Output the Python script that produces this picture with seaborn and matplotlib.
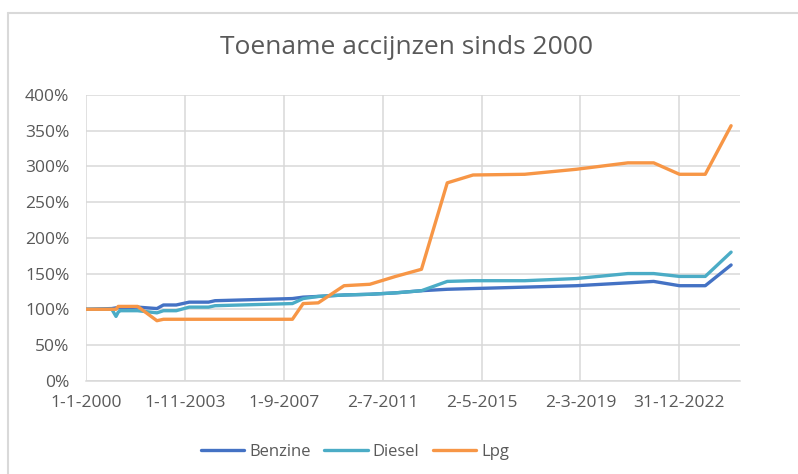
import datetime as dt
import pandas as pd
import matplotlib
matplotlib.use("Agg")
import matplotlib.pyplot as plt
import matplotlib.dates as mdates
from matplotlib.ticker import FuncFormatter, MultipleLocator
import seaborn as sns

# peildata en index (2000 = 100%)
datums = [
    "2000-01-01", "2001-01-01", "2001-03-01", "2001-04-01", "2001-05-01",
    "2002-01-01", "2002-10-01", "2003-01-01", "2003-07-01", "2004-01-01",
    "2004-10-01", "2005-01-01", "2006-01-01", "2007-01-01", "2008-01-01",
    "2008-06-01", "2009-01-01", "2010-01-01", "2011-01-01", "2012-01-01",
    "2013-01-01", "2014-01-01", "2015-01-01", "2017-01-01", "2019-01-01",
    "2021-01-01", "2022-01-01", "2023-01-01", "2024-01-01", "2025-01-01",
]
benzine = [100, 101, 102, 102, 102, 103, 101, 106, 106, 110,
           110, 112, 113, 114, 115, 117, 118, 120, 121, 123,
           126, 128, 129, 131, 133, 137, 139, 133, 133, 162]
diesel = [100, 100, 90, 96, 98, 98, 95, 98, 98, 103,
          103, 105, 106, 107, 108, 115, 118, 120, 121, 123,
          126, 139, 140, 140, 143, 150, 150, 146, 146, 180]
lpg = [100, 100, 100, 104, 104, 104, 84, 86, 86, 86,
       86, 86, 86, 86, 86, 108, 109, 133, 135, 146,
       156, 277, 288, 289, 296, 305, 305, 289, 289, 357]

reeksen = {"Benzine": benzine, "Diesel": diesel, "Lpg": lpg}
kleuren = {"Benzine": "#4472C4", "Diesel": "#4BACC6", "Lpg": "#F79646"}

frames = []
for naam, waarden in reeksen.items():
    frames.append(pd.DataFrame({"datum": pd.to_datetime(datums),
                                "index": [v / 100 for v in waarden],
                                "brandstof": naam}))
df = pd.concat(frames, ignore_index=True)

sns.set_theme(style="white")
plt.rcParams["font.family"] = ["Open Sans", "DejaVu Sans"]
tekst = "#595959"
raster = "#D9D9D9"

fig = plt.figure(figsize=(7.98, 4.74), dpi=100)
ax = fig.add_axes([86 / 798, 1 - 380.7 / 474, 654 / 798, 285.7 / 474])

sns.lineplot(data=df, x="datum", y="index", hue="brandstof", palette=kleuren,
             linewidth=2.4, ax=ax, legend=True)

start = dt.datetime(2000, 1, 1)
ticks = [start + dt.timedelta(days=1400 * k) for k in range(7)]
ax.set_xticks(mdates.date2num(ticks))
ax.xaxis.set_major_formatter(FuncFormatter(
    lambda v, p: (lambda d: f"{d.day}-{d.month}-{d.year}")(mdates.num2date(v))))
ax.set_xlim(mdates.date2num(start), mdates.date2num(start + dt.timedelta(days=9258)))

ax.set_ylim(0, 4)
ax.yaxis.set_major_locator(MultipleLocator(0.5))
ax.yaxis.set_major_formatter(FuncFormatter(lambda v, p: f"{v * 100:.0f}%"))

ax.grid(True, color=raster, linewidth=1.1)
ax.set_axisbelow(True)
for s in ["top", "right", "left"]:
    ax.spines[s].set_visible(False)
ax.spines["bottom"].set_color(raster)
ax.spines["bottom"].set_linewidth(1.1)
ax.tick_params(axis="both", length=0, labelsize=12.5, labelcolor=tekst)
ax.tick_params(axis="y", pad=12)
ax.tick_params(axis="x", pad=10)
ax.set_xlabel("")
ax.set_ylabel("")

fig.text(407 / 798, 1 - 48 / 474, "Toename accijnzen sinds 2000", ha="center",
         va="center", fontsize=19, color=tekst)

handles, labels = ax.get_legend_handles_labels()
ax.legend_.remove()
fig.legend(handles, labels, loc="center", bbox_to_anchor=(355 / 798, 1 - 452 / 474),
           ncol=3, frameon=False, fontsize=12, labelcolor=tekst,
           handlelength=2.6, handletextpad=0.3, columnspacing=0.8)

# rand van het grafiekvlak
fig.add_artist(plt.Line2D([7.5 / 798, 7.5 / 798], [0, 1 - 13 / 474],
                          color=raster, linewidth=1.5))
fig.add_artist(plt.Line2D([7.5 / 798, 1], [1 - 13 / 474, 1 - 13 / 474],
                          color=raster, linewidth=1.5))

fig.savefig("out.png", dpi=100)
